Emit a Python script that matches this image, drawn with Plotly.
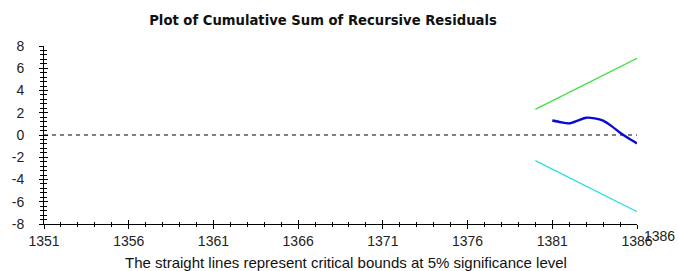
import plotly.graph_objects as go

# Data
bound_years = [1380, 1386]
upper_bound = [2.3, 6.9]
lower_bound = [-2.3, -6.9]

cusum_years = [1381, 1381.5, 1382, 1382.5, 1383, 1383.5, 1384, 1384.5, 1385, 1385.5, 1386]
cusum_values = [1.3, 1.15, 1.05, 1.3, 1.55, 1.5, 1.3, 0.8, 0.2, -0.3, -0.75]

zero_years = [1351, 1386]
zero_values = [0, 0]

x_ticks = [1351, 1356, 1361, 1366, 1371, 1376, 1381, 1386]
y_ticks = [8, 6, 4, 2, 0, -2, -4, -6, -8]

font = "Liberation Sans, Arial, sans-serif"

fig = go.Figure()
fig.add_trace(go.Scatter(x=zero_years, y=zero_values, mode="lines",
                         line=dict(color="black", width=1, dash="4px,4px"),
                         cliponaxis=False, showlegend=False, hoverinfo="skip"))
fig.add_trace(go.Scatter(x=bound_years, y=upper_bound, mode="lines",
                         line=dict(color="#3ee03e", width=1.3),
                         cliponaxis=False, showlegend=False))
fig.add_trace(go.Scatter(x=bound_years, y=lower_bound, mode="lines",
                         line=dict(color="#30dede", width=1.3),
                         cliponaxis=False, showlegend=False))
fig.add_trace(go.Scatter(x=cusum_years, y=cusum_values, mode="lines",
                         line=dict(color="#0a0ad0", width=2.4, shape="spline", smoothing=0.6),
                         cliponaxis=False, showlegend=False))
# invisible trace to activate overlay axes (for crossing ticks)
fig.add_trace(go.Scatter(x=[1351], y=[0], xaxis="x2", yaxis="y2", mode="markers",
                         marker=dict(opacity=0), showlegend=False, hoverinfo="skip"))

axis_common = dict(showgrid=False, zeroline=False, linecolor="black", linewidth=1)

fig.update_layout(
    width=679, height=271,
    margin=dict(l=34, r=42, t=46, b=47),
    paper_bgcolor="white", plot_bgcolor="white",
    font=dict(family=font, size=14, color="#222"),
    xaxis=dict(range=[1351, 1386], tickvals=x_ticks, ticktext=[str(v) for v in x_ticks],
               ticks="outside", ticklen=4, tickcolor="black", showline=True,
               ticklabelstandoff=0,
               minor=dict(dtick=1, tick0=1351, ticks="outside", ticklen=2, tickcolor="black"),
               tickfont=dict(size=14, color="#222"), **axis_common),
    yaxis=dict(range=[-8, 8], tickvals=y_ticks, ticktext=[str(v) for v in y_ticks],
               ticks="outside", ticklen=4, tickcolor="black", showline=True,
               ticklabelstandoff=12,
               minor=dict(dtick=0.4, tick0=0, ticks="outside", ticklen=3, tickcolor="black"),
               tickfont=dict(size=14, color="#222"), **axis_common),
    xaxis2=dict(range=[1351, 1386], overlaying="x", anchor="y", side="bottom",
                tickvals=x_ticks, showticklabels=False, ticks="inside", ticklen=4,
                tickcolor="black", showline=False,
                minor=dict(dtick=1, tick0=1351, ticks="inside", ticklen=2, tickcolor="black"),
                showgrid=False, zeroline=False),
    yaxis2=dict(range=[-8, 8], overlaying="y", anchor="x", side="left",
                tickvals=y_ticks, showticklabels=False, ticks="inside", ticklen=4,
                tickcolor="black", showline=False,
                minor=dict(dtick=0.4, tick0=0, ticks="inside", ticklen=3, tickcolor="black"),
                showgrid=False, zeroline=False),
    title=dict(text="<b>Plot of Cumulative Sum of Recursive Residuals</b>",
               x=323 / 679, xanchor="center", y=1 - 20 / 271, yanchor="middle",
               font=dict(family="DejaVu Sans, sans-serif", size=13.2, color="#111")),
    annotations=[
        dict(text="The straight lines represent critical bounds at 5% significance level",
             xref="paper", yref="paper", x=(341 - 34) / 603, y=-38 / 178,
             xanchor="center", yanchor="middle", showarrow=False,
             font=dict(family=font, size=15, color="#111")),
        dict(text="1386", xref="paper", yref="paper", x=1.0, xshift=5, y=0, yshift=-12,
             xanchor="left", yanchor="middle", showarrow=False,
             font=dict(family=font, size=14, color="#222")),
    ],
)

fig.write_html("out.html", config={"displayModeBar": False},
               post_script="document.body.style.margin='0px';")
